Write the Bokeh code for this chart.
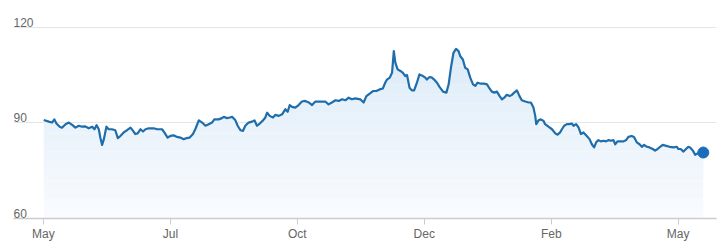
import numpy as np
from bokeh.plotting import figure
from bokeh.models import Range1d, FixedTicker, Label
from bokeh.embed import file_html
from bokeh.resources import INLINE

# position along the trading-day index (0 = first May, 250 = last May)
day_index = [
    0.1, 2.1, 3.4, 4.3, 5.1, 6.4, 7.3, 8.7, 10.0, 11.3, 12.6, 13.9, 15.2, 16.5, 17.8, 19.2,
    20.1, 20.9, 21.8, 22.4, 23.1, 23.8, 24.8, 25.7, 27.0, 28.3, 29.3, 30.3, 31.6, 32.9, 34.3,
    35.3, 36.2, 37.1, 38.2, 39.2, 40.2, 41.5, 43.4, 44.8, 46.7, 47.6, 48.9, 50.0, 51.3, 52.6,
    53.9, 55.2, 56.3, 57.6, 58.9, 59.8, 61.2, 62.5, 63.8, 65.1, 66.4, 67.3, 69.0, 70.3, 71.0,
    72.3, 73.4, 74.3, 75.6, 76.5, 77.6, 78.6, 79.5, 80.8, 82.2, 83.1, 84.1, 85.2, 86.5, 87.4,
    88.1, 89.1, 90.4, 91.3, 92.7, 94.0, 95.3, 96.2, 97.0, 97.9, 99.2, 100.5, 101.8, 103.1,
    104.5, 105.8, 107.1, 109.1, 111.0, 112.3, 113.6, 115.0, 116.3, 117.6, 118.9, 120.2, 121.5,
    122.8, 124.8, 126.1, 127.2, 128.5, 129.8, 131.1, 132.4, 133.7, 134.6, 135.3, 136.4, 137.3,
    138.0, 138.6, 139.5, 140.6, 141.6, 142.5, 143.2, 144.2, 145.1, 146.0, 147.1, 148.1, 149.5,
    150.4, 151.0, 152.1, 153.0, 153.9, 155.0, 156.0, 157.4, 158.7, 159.6, 160.5, 161.5, 162.5,
    163.5, 164.2, 165.2, 166.1, 167.1, 168.1, 169.2, 170.1, 171.0, 172.3, 173.6, 174.7, 175.7,
    176.6, 177.6, 178.6, 179.7, 180.6, 181.5, 182.5, 183.6, 184.5, 185.4, 186.5, 187.5, 188.4,
    189.8, 191.1, 192.0, 193.0, 193.7, 194.1, 195.0, 195.9, 197.0, 197.6, 198.9, 200.3, 201.6,
    202.5, 203.5, 204.2, 205.1, 206.2, 207.2, 208.1, 208.8, 209.8, 210.8, 211.7, 212.7, 214.0,
    215.1, 216.0, 216.9, 217.7, 218.6, 219.5, 220.6, 221.6, 222.6, 223.5, 224.5, 225.2, 226.1,
    227.2, 228.5, 229.5, 230.4, 231.7, 232.6, 233.7, 234.8, 235.7, 236.6, 237.7, 238.7, 240.0,
    240.9, 241.9, 242.9, 243.9, 245.3, 246.6, 248.2, 249.5, 250.1, 251.0, 252.1, 253.1, 254.0,
    254.7, 255.8, 256.7, 257.6, 258.6, 259.9,
]
price = [
    90.9, 90.4, 90.1, 91.1, 89.8, 88.8, 88.5, 89.6, 90.1, 89.4, 88.5, 89.1, 88.8, 88.9, 88.3, 88.8,
    88.0, 89.3, 88.0, 85.4, 83.1, 84.9, 88.8, 88.0, 88.0, 87.7, 85.2, 85.9, 87.0, 87.7, 88.5,
    87.5, 86.5, 86.7, 88.0, 87.3, 88.0, 88.3, 88.3, 88.0, 88.0, 87.0, 85.4, 85.9, 86.1, 85.6,
    85.4, 84.9, 85.2, 85.4, 86.5, 88.0, 90.8, 90.1, 89.1, 89.6, 90.1, 91.1, 91.1, 91.5, 91.9,
    91.5, 91.7, 91.9, 90.8, 89.1, 87.7, 87.5, 89.1, 90.1, 90.4, 90.8, 89.1, 89.8, 90.8, 91.7,
    93.2, 92.2, 91.7, 92.5, 92.2, 92.7, 94.3, 93.5, 95.6, 95.0, 94.8, 95.6, 96.7, 96.9,
    96.4, 95.6, 96.7, 96.7, 96.7, 95.8, 96.4, 97.1, 96.9, 97.4, 97.1, 97.9, 97.4,
    97.7, 97.4, 96.4, 98.4, 99.2, 100.0, 100.0, 100.5, 100.8, 102.6, 103.6, 104.2, 105.7,
    112.5, 108.9, 106.8, 106.3, 105.7, 104.7, 105.0, 101.0, 100.2, 100.2, 102.6, 105.2, 104.7,
    104.2, 103.6, 104.4, 104.2, 103.6, 102.6, 101.3, 99.8, 99.5, 102.1, 107.3, 112.0, 113.2,
    112.5, 110.9, 109.9, 107.3, 106.8, 104.2, 102.1, 101.6, 102.6, 102.3, 102.3, 102.1, 100.8,
    99.8, 99.5, 99.8, 98.4, 97.4, 97.9, 98.8, 98.4, 98.8, 99.5, 100.2, 98.4, 97.1,
    96.7, 96.4, 96.4, 94.8, 92.2, 89.6, 90.8, 91.1, 90.6, 89.6, 88.8, 88.0, 86.7,
    86.3, 87.0, 88.0, 89.1, 89.6, 89.6, 89.8, 89.1, 89.6, 88.5, 86.5, 87.0, 85.9,
    84.9, 83.3, 82.3, 83.9, 84.6, 84.2, 84.4, 84.2, 84.6, 84.4, 84.6, 83.3, 84.2,
    84.2, 84.2, 84.6, 85.6, 85.9, 85.6, 83.9, 83.3, 82.5, 83.1, 82.5, 82.3, 81.8,
    81.3, 81.8, 82.5, 83.1, 82.8, 82.5, 82.3, 82.5, 81.8, 81.8, 81.0, 81.8, 82.5,
    82.3, 81.3, 80.0, 80.4, 80.7, 80.7,
]
x_tick_pos = [0, 50, 100, 150, 200, 250]
x_tick_labels = ["May", "Jul", "Oct", "Dec", "Feb", "May"]
y_ticks = [60, 90, 120]

LINE = "#1f6dab"
TEXT = "#666666"
FONT = "Liberation Sans"

p = figure(width=721, height=248, output_backend="svg", toolbar_location=None,
           y_axis_location=None, min_border_left=13, min_border_right=5,
           min_border_top=0, min_border_bottom=30)
p.x_range = Range1d(-11.8, 265.1)
p.y_range = Range1d(60, 128.4)
p.outline_line_color = None
p.background_fill_color = "white"
p.border_fill_color = "white"

# gradient-like area fill (stacked bands under the line)
xs = np.array(day_index)
ys = np.array(price)
bands = np.linspace(60, 114, 19)
c_top = np.array([220, 235, 248])
c_bot = np.array([250, 252, 255])
for k in range(len(bands) - 1):
    lo = np.minimum(ys, bands[k])
    hi = np.minimum(ys, bands[k + 1])
    t = (bands[k] + bands[k + 1]) / 2
    f = (t - 60) / (114 - 60)
    c = (c_bot + (c_top - c_bot) * f).astype(int)
    col = "#%02x%02x%02x" % tuple(c)
    p.varea(x=xs, y1=lo, y2=hi, fill_color=col, fill_alpha=1.0)

p.line(day_index, price, line_color=LINE, line_width=2.2, line_join="round")
p.scatter([day_index[-1]], [price[-1]], size=11, fill_color="#1a6dba", line_color="#1a6dba")

# grid
p.xgrid.grid_line_color = None
p.ygrid.ticker = FixedTicker(ticks=y_ticks)
p.ygrid.grid_line_color = "#e6e6e6"
p.ygrid.grid_line_width = 1

# x axis
ax = p.xaxis[0]
ax.ticker = FixedTicker(ticks=x_tick_pos)
ax.major_label_overrides = {k: v for k, v in zip(x_tick_pos, x_tick_labels)}
ax.axis_line_color = "#cccccc"
ax.axis_line_width = 1.5
ax.major_tick_line_color = "#cccccc"
ax.major_tick_out = 6
ax.major_tick_in = 0
ax.minor_tick_line_color = None
ax.major_label_text_color = TEXT
ax.major_label_text_font = FONT
ax.major_label_text_font_size = "12px"
ax.major_label_standoff = 2

# y labels above gridlines, left-aligned
for t in y_ticks:
    p.add_layout(Label(x=0, x_units="screen", y=t, y_offset=5, text=str(t),
                       text_color=TEXT, text_font=FONT, text_font_size="12px",
                       text_align="left", text_baseline="alphabetic"))

open("out.html", "w").write(file_html(p, INLINE))
